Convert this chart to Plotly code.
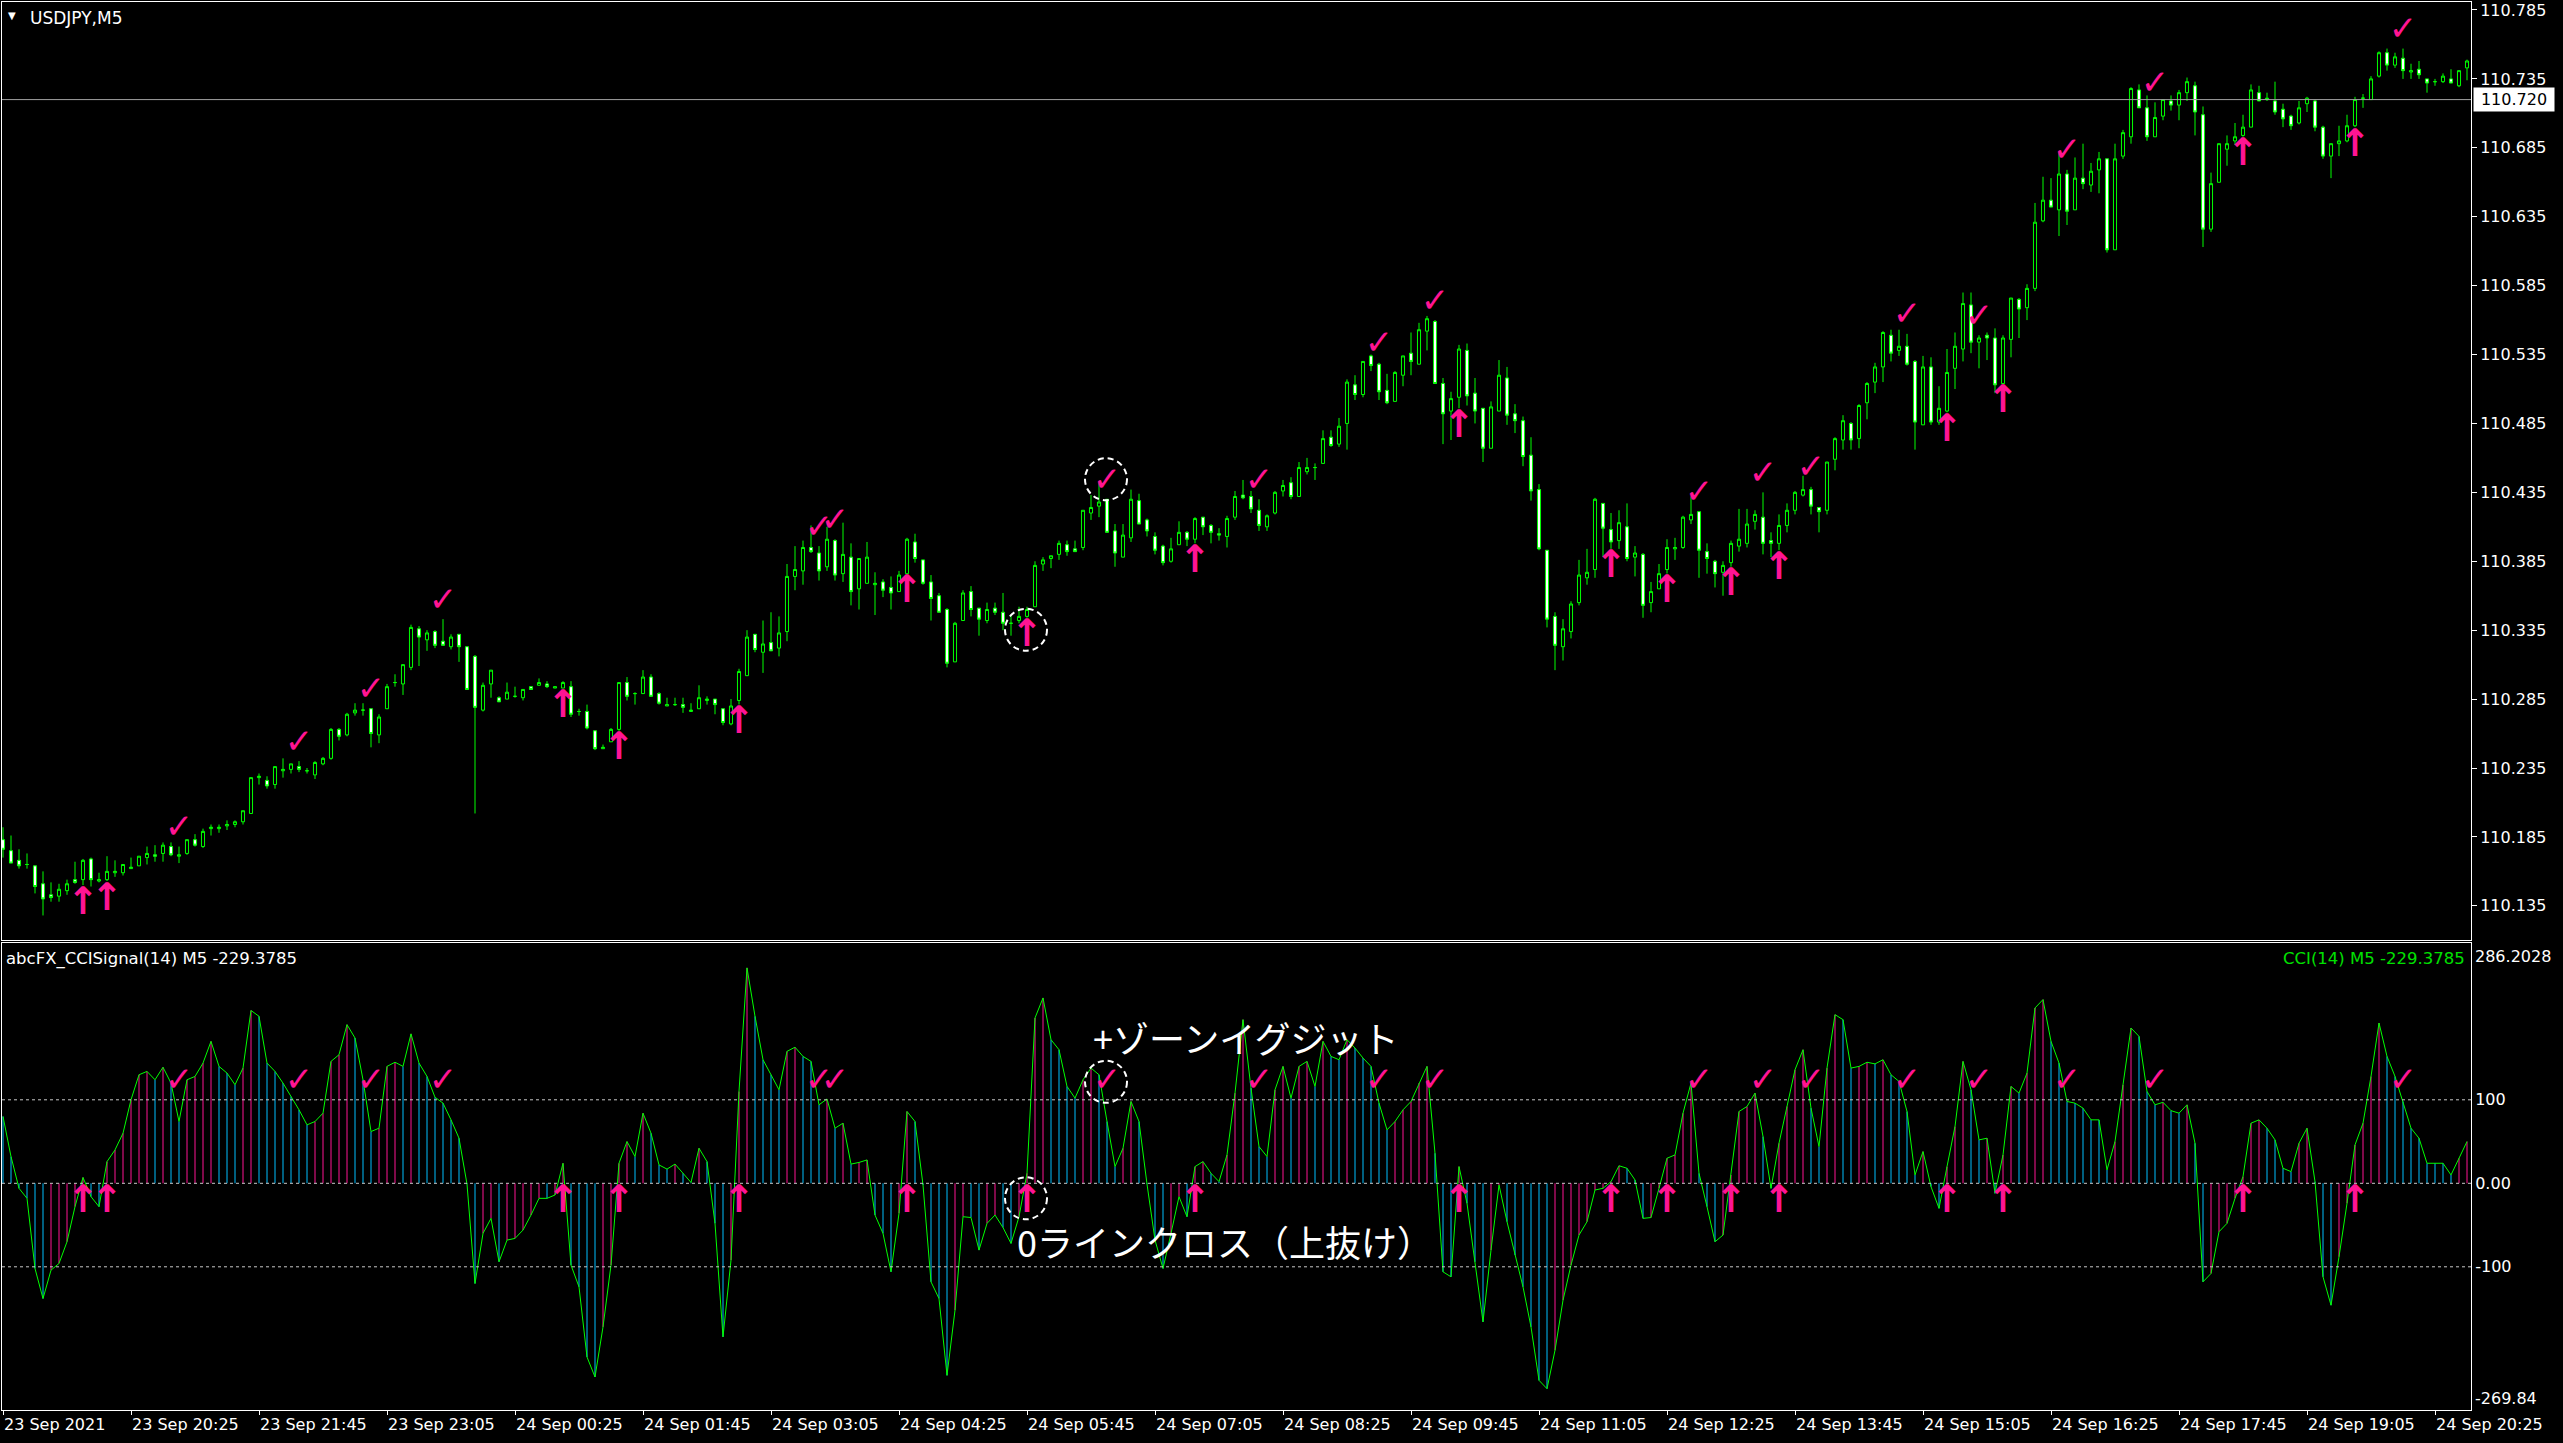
import plotly.graph_objects as go

# ---------------- data ----------------
time_labels = ["23 Sep 2021", "23 Sep 20:25", "23 Sep 21:45", "23 Sep 23:05", "24 Sep 00:25",
               "24 Sep 01:45", "24 Sep 03:05", "24 Sep 04:25", "24 Sep 05:45", "24 Sep 07:05",
               "24 Sep 08:25", "24 Sep 09:45", "24 Sep 11:05", "24 Sep 12:25", "24 Sep 13:45",
               "24 Sep 15:05", "24 Sep 16:25", "24 Sep 17:45", "24 Sep 19:05", "24 Sep 20:25"]
time_label_bars = [0, 16, 32, 48, 64, 80, 96, 112, 128, 144, 160, 176, 192, 208, 224, 240, 256, 272, 288, 304]

open_ = [
110.183,110.175,110.168,110.165,110.164,110.151,110.143,110.142,110.146,110.154,
110.154,110.169,110.153,110.154,110.159,110.159,110.162,110.164,110.170,110.172,
110.173,110.178,110.171,110.173,110.183,110.178,110.191,110.191,110.193,110.194,
110.196,110.202,110.228,110.226,110.223,110.233,110.234,110.236,110.233,110.230,
110.238,110.242,110.263,110.259,110.275,110.277,110.278,110.259,110.278,110.297,
110.296,110.308,110.336,110.328,110.334,110.327,110.323,110.332,110.323,110.316,
110.277,110.296,110.286,110.285,110.287,110.286,110.294,110.295,110.296,110.293,
110.293,110.294,110.276,110.276,110.262,110.249,110.254,110.263,110.297,110.289,
110.289,110.301,110.289,110.280,110.281,110.281,110.276,110.278,110.284,110.285,
110.278,110.267,110.284,110.302,110.332,110.319,110.326,110.322,110.334,110.374,
110.378,110.395,110.391,110.381,110.400,110.376,110.388,110.365,110.369,110.368,
110.370,110.366,110.363,110.376,110.399,110.386,110.370,110.360,110.350,110.312,
110.342,110.363,110.351,110.342,110.351,110.348,110.340,110.342,110.345,110.352,
110.383,110.387,110.390,110.397,110.394,110.395,110.420,110.425,110.430,110.407,
110.388,110.402,110.429,110.415,110.403,110.396,110.385,110.397,110.406,110.401,
110.417,110.411,110.405,110.403,110.417,110.433,110.432,110.422,110.410,110.420,
110.436,110.442,110.432,110.450,110.453,110.456,110.475,110.470,110.485,110.513,
110.506,110.534,110.528,110.509,110.501,110.520,110.536,110.528,110.552,110.559,
110.514,110.494,110.504,110.538,110.507,110.496,110.467,110.494,110.518,110.492,
110.487,110.462,110.437,110.393,110.345,110.323,110.334,110.355,110.373,110.379,
110.427,110.408,110.400,110.410,110.388,110.390,110.355,110.365,110.379,110.394,
110.395,110.415,110.421,110.392,110.385,110.377,110.384,110.396,110.398,110.414,
110.417,110.400,110.398,110.411,110.422,110.433,110.437,110.424,110.422,110.459,
110.473,110.485,110.474,110.500,110.515,110.526,110.549,110.538,110.541,110.530,
110.484,110.526,110.486,110.494,110.525,110.539,110.571,110.544,110.549,110.547,
110.514,110.546,110.575,110.569,110.583,110.632,110.647,110.640,110.666,110.640,
110.663,110.658,110.669,110.677,110.611,110.679,110.693,110.727,110.714,110.693,
110.708,110.719,110.716,110.725,110.730,110.709,110.626,110.660,110.684,110.690,
110.694,110.700,110.725,110.720,110.719,110.713,110.708,110.703,110.717,110.719,
110.700,110.679,110.688,110.690,110.701,110.721,110.720,110.737,110.754,110.745,
110.750,110.740,110.742,110.735,110.733,110.733,110.735,110.730,110.743]

high = [
110.192,110.186,110.176,110.173,110.164,110.160,110.152,110.151,110.154,110.167,
110.169,110.170,110.159,110.171,110.168,110.165,110.170,110.171,110.178,110.179,
110.181,110.181,110.178,110.183,110.187,110.191,110.194,110.194,110.197,110.197,
110.204,110.228,110.231,110.229,110.236,110.242,110.238,110.240,110.235,110.240,
110.243,110.264,110.264,110.275,110.282,110.282,110.278,110.274,110.296,110.303,
110.310,110.339,110.338,110.335,110.335,110.343,110.332,110.332,110.323,110.317,
110.297,110.306,110.287,110.297,110.294,110.292,110.294,110.300,110.298,110.294,
110.298,110.298,110.278,110.281,110.262,110.252,110.264,110.297,110.301,110.290,
110.306,110.303,110.290,110.286,110.286,110.286,110.282,110.295,110.287,110.285,
110.278,110.285,110.307,110.335,110.332,110.342,110.348,110.345,110.383,110.396,
110.400,110.411,110.396,110.410,110.401,110.413,110.398,110.387,110.399,110.377,
110.372,110.374,110.378,110.402,110.405,110.386,110.375,110.362,110.351,110.341,
110.364,110.367,110.351,110.355,110.355,110.362,110.346,110.352,110.352,110.385,
110.388,110.389,110.400,110.400,110.400,110.422,110.433,110.442,110.430,110.412,
110.412,110.437,110.434,110.416,110.406,110.397,110.402,110.414,110.407,110.417,
110.417,110.412,110.409,110.418,110.436,110.444,110.436,110.430,110.419,110.436,
110.444,110.446,110.457,110.460,110.456,110.480,110.480,110.489,110.517,110.520,
110.530,110.535,110.529,110.521,110.523,110.534,110.551,110.558,110.563,110.560,
110.518,110.508,110.542,110.543,110.518,110.496,110.501,110.531,110.526,110.499,
110.490,110.475,110.441,110.393,110.348,110.343,110.356,110.386,110.394,110.431,
110.427,110.420,110.422,110.427,110.396,110.391,110.370,110.383,110.401,110.402,
110.418,110.432,110.421,110.398,110.386,110.385,110.400,110.423,110.423,110.422,
110.435,110.406,110.419,110.427,110.436,110.447,110.439,110.424,110.457,110.475,
110.491,110.486,110.499,110.515,110.529,110.552,110.553,110.553,110.550,110.531,
110.534,110.533,110.512,110.539,110.551,110.580,110.580,110.549,110.551,110.554,
110.549,110.576,110.576,110.586,110.645,110.664,110.663,110.682,110.669,110.678,
110.688,110.674,110.682,110.677,110.688,110.698,110.729,110.731,110.723,110.718,
110.720,110.723,110.727,110.736,110.733,110.715,110.667,110.688,110.694,110.703,
110.709,110.731,110.730,110.725,110.733,110.717,110.709,110.719,110.722,110.720,
110.701,110.688,110.701,110.709,110.722,110.724,110.737,110.755,110.757,110.754,
110.757,110.746,110.748,110.735,110.735,110.739,110.742,110.741,110.749]

low = [
110.170,110.166,110.162,110.162,110.144,110.128,110.138,110.138,110.143,110.151,
110.150,110.149,110.152,110.153,110.156,110.157,110.162,110.164,110.165,110.167,
110.167,110.171,110.166,110.172,110.178,110.177,110.186,110.188,110.190,110.192,
110.194,110.202,110.223,110.220,110.220,110.228,110.231,110.232,110.231,110.227,
110.237,110.241,110.255,110.258,110.273,110.273,110.250,110.253,110.278,110.294,
110.288,110.306,110.309,110.320,110.322,110.324,110.321,110.312,110.292,110.202,
110.276,110.286,110.283,110.285,110.286,110.284,110.292,110.295,110.293,110.293,
110.293,110.272,110.273,110.263,110.248,110.249,110.254,110.262,110.284,110.281,
110.289,110.287,110.281,110.280,110.280,110.275,110.276,110.278,110.281,110.274,
110.266,110.266,110.281,110.302,110.319,110.304,110.320,110.316,110.327,110.364,
110.368,110.391,110.371,110.378,110.371,110.370,110.353,110.350,110.369,110.346,
110.359,110.350,110.363,110.376,110.384,110.368,110.342,110.348,110.308,110.312,
110.342,110.345,110.331,110.340,110.346,110.335,110.331,110.340,110.344,110.352,
110.378,110.380,110.386,110.389,110.392,110.393,110.415,110.417,110.406,110.381,
110.388,110.399,110.412,110.403,110.390,110.382,110.384,110.397,110.396,110.398,
110.404,110.398,110.400,110.395,110.415,110.430,110.420,110.407,110.407,110.419,
110.432,110.430,110.432,110.448,110.444,110.456,110.468,110.468,110.466,110.502,
110.504,110.523,110.502,110.499,110.501,110.512,110.520,110.528,110.538,110.514,
110.470,110.473,110.496,110.498,110.485,110.457,110.467,110.494,110.484,110.478,
110.454,110.429,110.393,110.337,110.306,110.313,110.329,110.353,110.368,110.373,
110.388,110.394,110.394,110.385,110.374,110.344,110.348,110.365,110.376,110.386,
110.394,110.412,110.373,110.376,110.366,110.360,110.381,110.392,110.395,110.408,
110.390,110.388,110.393,110.406,110.419,110.432,110.419,110.406,110.419,110.451,
110.466,110.466,110.467,110.488,110.507,110.515,110.530,110.534,110.527,110.466,
110.484,110.484,110.484,110.493,110.510,110.530,110.536,110.525,110.531,110.507,
110.514,110.533,110.547,110.560,110.581,110.631,110.642,110.621,110.629,110.640,
110.655,110.653,110.652,110.609,110.611,110.677,110.688,110.714,110.690,110.693,
110.705,110.712,110.705,110.719,110.694,110.613,110.624,110.660,110.672,110.687,
110.693,110.700,110.719,110.719,110.709,110.700,110.698,110.702,110.711,110.697,
110.677,110.663,110.679,110.689,110.700,110.714,110.720,110.736,110.741,110.743,
110.735,110.735,110.735,110.725,110.730,110.732,110.732,110.729,110.734]

close = [
110.176,110.166,110.164,110.165,110.149,110.140,110.141,110.147,110.151,110.152,
110.168,110.154,110.154,110.160,110.160,110.165,110.163,110.171,110.173,110.171,
110.179,110.172,110.172,110.183,110.179,110.189,110.192,110.192,110.194,110.196,
110.204,110.228,110.229,110.222,110.236,110.234,110.238,110.234,110.233,110.239,
110.242,110.263,110.258,110.274,110.277,110.277,110.260,110.272,110.294,110.297,
110.310,110.337,110.330,110.333,110.324,110.324,110.330,110.323,110.292,110.279,
110.295,110.306,110.283,110.290,110.287,110.292,110.292,110.297,110.294,110.294,
110.297,110.274,110.276,110.264,110.249,110.250,110.263,110.297,110.287,110.289,
110.301,110.287,110.282,110.281,110.281,110.279,110.277,110.286,110.285,110.281,
110.268,110.280,110.305,110.330,110.321,110.325,110.320,110.333,110.374,110.379,
110.395,110.392,110.378,110.401,110.375,110.390,110.363,110.387,110.388,110.369,
110.364,110.362,110.375,110.401,110.387,110.369,110.358,110.348,110.311,110.340,
110.362,110.350,110.343,110.350,110.348,110.340,110.340,110.345,110.350,110.382,
110.386,110.389,110.398,110.392,110.392,110.422,110.424,110.428,110.406,110.391,
110.404,110.430,110.412,110.407,110.393,110.384,110.394,110.406,110.401,110.416,
110.410,110.406,110.404,110.416,110.432,110.431,110.423,110.411,110.418,110.435,
110.440,110.432,110.453,110.453,110.453,110.474,110.469,110.483,110.515,110.506,
110.530,110.527,110.508,110.500,110.522,110.534,110.530,110.553,110.561,110.514,
110.492,110.503,110.539,110.505,110.494,110.467,110.497,110.520,110.491,110.487,
110.461,110.436,110.394,110.343,110.324,110.336,110.354,110.375,110.377,110.430,
110.409,110.399,110.413,110.387,110.391,110.353,110.363,110.376,110.395,110.395,
110.417,110.419,110.393,110.387,110.376,110.382,110.398,110.401,110.412,110.419,
110.398,110.398,110.411,110.422,110.435,110.437,110.425,110.421,110.457,110.474,
110.487,110.473,110.498,110.514,110.526,110.551,110.536,110.541,110.528,110.486,
110.526,110.486,110.496,110.522,110.541,110.572,110.544,110.547,110.547,110.513,
110.547,110.576,110.568,110.583,110.631,110.647,110.642,110.666,110.639,110.663,
110.659,110.668,110.677,110.611,110.677,110.696,110.728,110.714,110.693,110.707,
110.720,110.716,110.725,110.733,110.711,110.626,110.659,110.688,110.688,110.693,
110.700,110.727,110.719,110.721,110.711,110.706,110.701,110.714,110.721,110.700,
110.679,110.688,110.690,110.701,110.720,110.721,110.735,110.754,110.745,110.751,
110.741,110.741,110.738,110.732,110.733,110.737,110.732,110.741,110.748]

cci = [
80, 32, -6, -18, -102, -138, -104, -96, -70, -28,
7, -16, -28, 26, 40, 60, 100, 130, 134, 124,
139, 120, 74, 124, 128, 144, 170, 140, 132, 118,
138, 207, 200, 144, 134, 120, 104, 88, 70, 74,
84, 146, 154, 190, 174, 124, 62, 66, 140, 145,
140, 179, 144, 128, 103, 96, 76, 54, -1, -120,
-60, -42, -94, -68, -66, -56, -38, -18, -18, -14,
24, -98, -124, -208, -232, -172, -98, 24, 50, 32,
84, 60, 22, 17, 23, 12, 1, 42, 26, -48,
-184, -92, 110, 258, 200, 148, 130, 112, 158, 163,
152, 146, 94, 101, 66, 72, 23, 25, 28, -38,
-60, -106, -36, 86, 74, -2, -118, -138, -230, -152,
-40, -41, -80, -48, -38, -53, -72, -40, 12, 198,
222, 172, 160, 116, 102, 124, 138, 130, 74, 20,
42, 98, 74, -1, -68, -102, -60, -16, -40, 20,
26, 12, 2, 34, 108, 196, 114, 44, 32, 112,
140, 102, 140, 146, 116, 170, 152, 148, 172, 162,
150, 140, 96, 64, 74, 88, 98, 120, 140, 36,
-106, -112, 20, -24, -94, -166, -80, -2, -46, -86,
-124, -172, -236, -246, -200, -140, -98, -62, -46, -8,
-6, 2, 21, 18, 4, -42, -41, -6, 30, 34,
84, 120, 12, -28, -70, -62, 10, 86, 92, 108,
56, -6, 48, 92, 136, 160, 90, 44, 138, 202,
196, 138, 140, 145, 143, 148, 130, 122, 86, 10,
38, -4, -30, 20, 68, 146, 112, 52, 54, -12,
34, 116, 108, 132, 210, 220, 170, 144, 98, 96,
90, 76, 76, 16, 50, 118, 186, 176, 110, 94,
97, 87, 84, 94, 48, -118, -108, -58, -48, -18,
8, 72, 76, 66, 52, 18, 14, 48, 66, 2,
-112, -146, -88, -24, 46, 72, 128, 192, 152, 128,
98, 66, 54, 24, 24, 24, 10, 30, 50]

arrow_bars = [10, 13, 70, 77, 92, 113, 128, 149, 182, 201, 208, 216, 222, 243, 250, 280, 294]
check_bars = [22, 37, 46, 55, 102, 104, 138, 157, 172, 179, 212, 220, 226, 238, 247, 258, 269, 300]
circled_arrow_bar = 128
circled_check_bar = 138

price_ticks = [110.135, 110.185, 110.235, 110.285, 110.335, 110.385, 110.435,
               110.485, 110.535, 110.585, 110.635, 110.685, 110.735, 110.785]
hline_price = 110.720
cci_levels = [100, 0, -100]
cci_level_labels = ["100", "0.00", "-100"]
cci_scale_max_label = "286.2028"
cci_scale_min_label = "-269.84"

symbol_title = "USDJPY,M5"
ind_title = "abcFX_CCISignal(14) M5 -229.3785"
cci_title = "CCI(14) M5 -229.3785"
label_exit = "+ゾーンイグジット"
label_cross = "0ラインクロス（上抜け）"

# ---------------- styling ----------------
GREEN = "#00FF00"
PINK = "#FF1493"
BLUE = "#00BFFF"
FONT = "DejaVu Sans"
JP = "Noto Sans CJK JP"
ARROW_SIZE = 38
CHECK_SIZE = 34

x = list(range(len(close)))

fig = go.Figure()

fig.add_trace(go.Candlestick(
    x=x, open=open_, high=high, low=low, close=close,
    increasing=dict(line=dict(color=GREEN, width=1), fillcolor="#000000"),
    decreasing=dict(line=dict(color=GREEN, width=1), fillcolor="#FFFFFF"),
    whiskerwidth=0, xaxis="x", yaxis="y", hoverinfo="skip"))

# signals on price chart
fig.add_trace(go.Scatter(
    x=arrow_bars, y=[low[i] for i in arrow_bars], mode="text",
    text=["↑"] * len(arrow_bars), textposition="bottom center",
    textfont=dict(color=PINK, size=ARROW_SIZE, family=FONT, weight="bold"),
    xaxis="x", yaxis="y", hoverinfo="skip", cliponaxis=False))
fig.add_trace(go.Scatter(
    x=check_bars, y=[high[i] for i in check_bars], mode="text",
    text=["✓"] * len(check_bars), textposition="top center",
    textfont=dict(color=PINK, size=CHECK_SIZE, family=FONT, weight="bold"),
    xaxis="x", yaxis="y", hoverinfo="skip", cliponaxis=False))

# CCI histogram (pink rising, blue falling)
px, py, bx, by = [], [], [], []
for i, v in enumerate(cci):
    if i > 0 and v > cci[i - 1]:
        px += [i, i, None]
        py += [0, v, None]
    else:
        bx += [i, i, None]
        by += [0, v, None]
fig.add_trace(go.Scatter(x=px, y=py, mode="lines", line=dict(color=PINK, width=1),
                         xaxis="x2", yaxis="y2", hoverinfo="skip"))
fig.add_trace(go.Scatter(x=bx, y=by, mode="lines", line=dict(color=BLUE, width=1),
                         xaxis="x2", yaxis="y2", hoverinfo="skip"))
fig.add_trace(go.Scatter(x=x, y=cci, mode="lines", line=dict(color=GREEN, width=1),
                         xaxis="x2", yaxis="y2", hoverinfo="skip"))

# signals on indicator
fig.add_trace(go.Scatter(
    x=arrow_bars, y=[cci_levels[1]] * len(arrow_bars), mode="text",
    text=["↑"] * len(arrow_bars), textposition="bottom center",
    textfont=dict(color=PINK, size=ARROW_SIZE, family=FONT, weight="bold"),
    xaxis="x2", yaxis="y2", hoverinfo="skip", cliponaxis=False))
fig.add_trace(go.Scatter(
    x=check_bars, y=[cci_levels[0]] * len(check_bars), mode="text",
    text=["✓"] * len(check_bars), textposition="top center",
    textfont=dict(color=PINK, size=CHECK_SIZE, family=FONT, weight="bold"),
    xaxis="x2", yaxis="y2", hoverinfo="skip", cliponaxis=False))

shapes = []
# horizontal price line
shapes.append(dict(type="line", xref="x domain", x0=0, x1=1, yref="y",
                   y0=hline_price, y1=hline_price, line=dict(color="#A0A0A0", width=1)))
# indicator levels
for lv in cci_levels:
    shapes.append(dict(type="line", xref="x2 domain", x0=0, x1=1, yref="y2",
                       y0=lv, y1=lv, line=dict(color="#C8C8C8", width=1, dash="3px,3px")))
# dashed circles
circ = dict(type="circle", xsizemode="pixel", ysizemode="pixel",
            line=dict(color="white", width=2, dash="6px,4px"))
shapes.append(dict(circ, xref="x", yref="y", xanchor=circled_arrow_bar, yanchor=low[circled_arrow_bar],
                   x0=-22, x1=20, y0=-33, y1=9))
shapes.append(dict(circ, xref="x", yref="y", xanchor=circled_check_bar, yanchor=high[circled_check_bar],
                   x0=-22, x1=20, y0=-1, y1=41))
shapes.append(dict(circ, xref="x2", yref="y2", xanchor=circled_arrow_bar, yanchor=cci_levels[1],
                   x0=-22, x1=20, y0=-36, y1=6))
shapes.append(dict(circ, xref="x2", yref="y2", xanchor=circled_check_bar, yanchor=cci_levels[0],
                   x0=-22, x1=20, y0=-3, y1=39))

annotations = [
    dict(text="▼", xref="paper", x=0, xanchor="left", xshift=4, yref="paper", y=1, yanchor="top",
         yshift=-6, showarrow=False, font=dict(color="white", size=10, family=FONT)),
    dict(text=symbol_title, xref="paper", x=0, xanchor="left", xshift=26, yref="paper", y=1,
         yanchor="top", yshift=-4, showarrow=False, font=dict(color="white", size=17, family=FONT)),
    dict(text=ind_title, xref="paper", x=0, xanchor="left", xshift=2, yref="y2 domain", y=1,
         yanchor="top", yshift=-4, showarrow=False, font=dict(color="white", size=16.5, family=FONT)),
    dict(text=cci_title, xref="paper", x=1, xanchor="right", xshift=-4, yref="y2 domain", y=1,
         yanchor="top", yshift=-4, showarrow=False, font=dict(color="#00E000", size=16.5, family=FONT)),
    dict(text=cci_scale_max_label, xref="paper", x=1, xanchor="left", xshift=2, yref="y2 domain", y=1,
         yanchor="top", yshift=-2, showarrow=False, font=dict(color="white", size=16, family=FONT)),
    dict(text=cci_scale_min_label, xref="paper", x=1, xanchor="left", xshift=2, yref="y2 domain", y=0,
         yanchor="bottom", showarrow=False, font=dict(color="white", size=16, family=FONT)),
    dict(text=f"{hline_price:.3f}", xref="paper", x=1, xanchor="left", xshift=2, yref="y",
         y=hline_price, yanchor="middle", showarrow=False, bgcolor="white", width=78, height=21,
         borderpad=1, font=dict(color="black", size=16, family=FONT)),
    dict(text=label_exit, xref="x2", x=circled_check_bar, xanchor="left", xshift=-16, yref="y2",
         y=cci_levels[0], yanchor="middle", yshift=63, showarrow=False,
         font=dict(color="white", size=36, family=JP)),
    dict(text=label_cross, xref="x2", x=circled_arrow_bar, xanchor="left", xshift=-12, yref="y2",
         y=cci_levels[1], yanchor="middle", yshift=-58, showarrow=False,
         font=dict(color="white", size=36, family=JP)),
]

axis_common = dict(showgrid=False, zeroline=False, showline=True, mirror=True,
                   linecolor="white", linewidth=1)

fig.update_layout(
    width=2563, height=1443,
    paper_bgcolor="black", plot_bgcolor="black",
    margin=dict(l=2, r=92, t=2, b=33),
    showlegend=False, hovermode=False, boxgap=0.45,
    shapes=shapes, annotations=annotations,
    xaxis=dict(axis_common, domain=[0, 1], anchor="y", range=[-0.125, 308.5],
               showticklabels=False, ticks="", rangeslider=dict(visible=False)),
    yaxis=dict(axis_common, domain=[0.33381, 1], anchor="x", range=[110.1102, 110.7908],
               side="right", tickvals=price_ticks, ticktext=[f"{v:.3f}" for v in price_ticks],
               ticks="outside", ticklen=5, tickcolor="white",
               tickfont=dict(color="white", size=16, family=FONT)),
    xaxis2=dict(axis_common, domain=[0, 1], anchor="y2", matches="x", range=[-0.125, 308.5],
                tickvals=time_label_bars, ticktext=time_labels, ticks="outside", ticklen=4,
                tickcolor="white", ticklabelposition="outside right",
                tickfont=dict(color="white", size=16, family=FONT)),
    yaxis2=dict(axis_common, domain=[0, 0.33168], anchor="x2", range=[-271.5, 287.8],
                side="right", tickvals=cci_levels, ticktext=cci_level_labels, ticks="",
                tickfont=dict(color="white", size=16, family=FONT)),
)

fig.write_html("out.html", config={"displayModeBar": False},
               post_script="document.body.style.margin='0';document.body.style.overflow='hidden';")
